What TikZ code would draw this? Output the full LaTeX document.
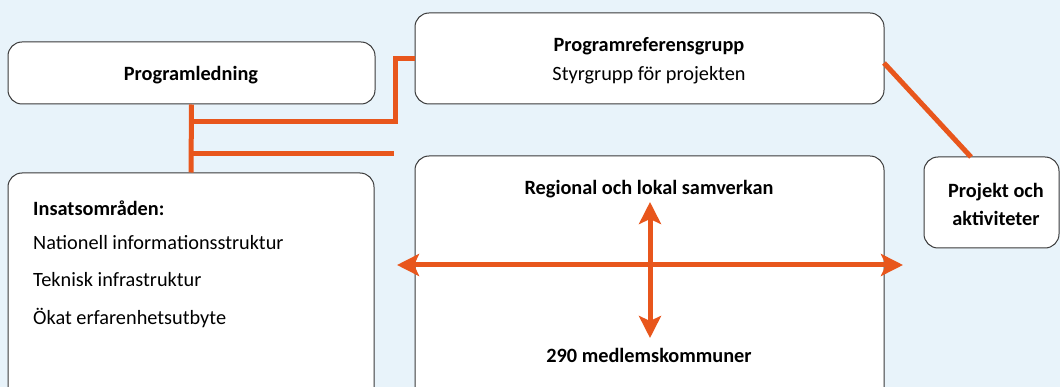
\documentclass[tikz,border=0pt]{standalone}
\usepackage{fontspec}
\setmainfont{Carlito}
\usetikzlibrary{arrows.meta}
\definecolor{bgblue}{HTML}{E8F3FA}
\definecolor{linkorange}{HTML}{E8561C}
\definecolor{frame}{HTML}{3A3A3A}
\begin{document}
\begin{tikzpicture}[x=1pt,y=-1pt,
  box/.style={draw=frame, line width=1pt, fill=white, rounded corners=14pt, inner sep=0pt},
  link/.style={draw=linkorange, line width=5pt},
  dbl/.style={link, {Stealth[length=22pt,width=22pt,inset=5pt]}-{Stealth[length=22pt,width=22pt,inset=5pt]}},
  title/.style={font=\bfseries\fontsize{20.3}{24}\selectfont, inner sep=0pt},
  plain/.style={font=\fontsize{20.3}{24}\selectfont, inner sep=0pt}]
  % canvas
  \fill[bgblue] (0,0) rectangle (1060,387);
  \useasboundingbox (0,0) rectangle (1060,387);
  \clip (0,0) rectangle (1060,387);

  % boxes
  \node[box, minimum width=367pt, minimum height=62pt] (pl) at (191.5,73) {};
  \node[box, minimum width=469pt, minimum height=91pt] (ref) at (649.5,58.5) {};
  \node[box, minimum width=366pt, minimum height=247pt] (ins) at (191,296.5) {};
  \node[box, minimum width=469pt, minimum height=264pt] (reg) at (649.5,288) {};
  \node[box, minimum width=135pt, minimum height=91pt] (proj) at (991.5,202.5) {};

  % texts
  \node[title] (plt) at (191,75) {Programledning};
  \node[title] (reft) at (649,46) {Programreferensgrupp};
  \node[plain] (refs) at (649,75) {Styrgrupp för projekten};
  \node[title] (regt) at (649,189) {Regional och lokal samverkan};
  \node[title] (regb) at (649,355) {290 medlemskommuner};
  \node[title, align=center] (projt) at (996,204) {Projekt och\\[4pt]aktiviteter};
  \node[title, anchor=west] (ins0) at (33,208) {Insatsområden:};
  \node[plain, anchor=west] (ins1) at (33,243) {Nationell informationsstruktur};
  \node[plain, anchor=west] (ins2) at (33,280) {Teknisk infrastruktur};
  \node[plain, anchor=west] (ins3) at (33,318) {Ökat erfarenhetsutbyte};

  % connector points
  \coordinate (j1) at (191,122);
  \coordinate (bend) at (395,122);
  \coordinate (j2) at (191,154);
  \coordinate (stub) at (394,154);
  \coordinate (d1) at (884,63);
  \coordinate (d2) at (971,157);
  \coordinate (ha) at (397,265);
  \coordinate (hb) at (903,265);
  \coordinate (va) at (650,202);
  \coordinate (vb) at (650,338);

  % connectors
  \draw[link] (pl.south) -- (ins.north);
  \draw[link] (j1) -- (bend) |- (ref.west);
  \draw[link] (j2) -- (stub);
  \draw[link] (d1) -- (d2);
  \draw[dbl] (ha) -- (hb);
  \draw[dbl] (va) -- (vb);
\end{tikzpicture}
\end{document}
